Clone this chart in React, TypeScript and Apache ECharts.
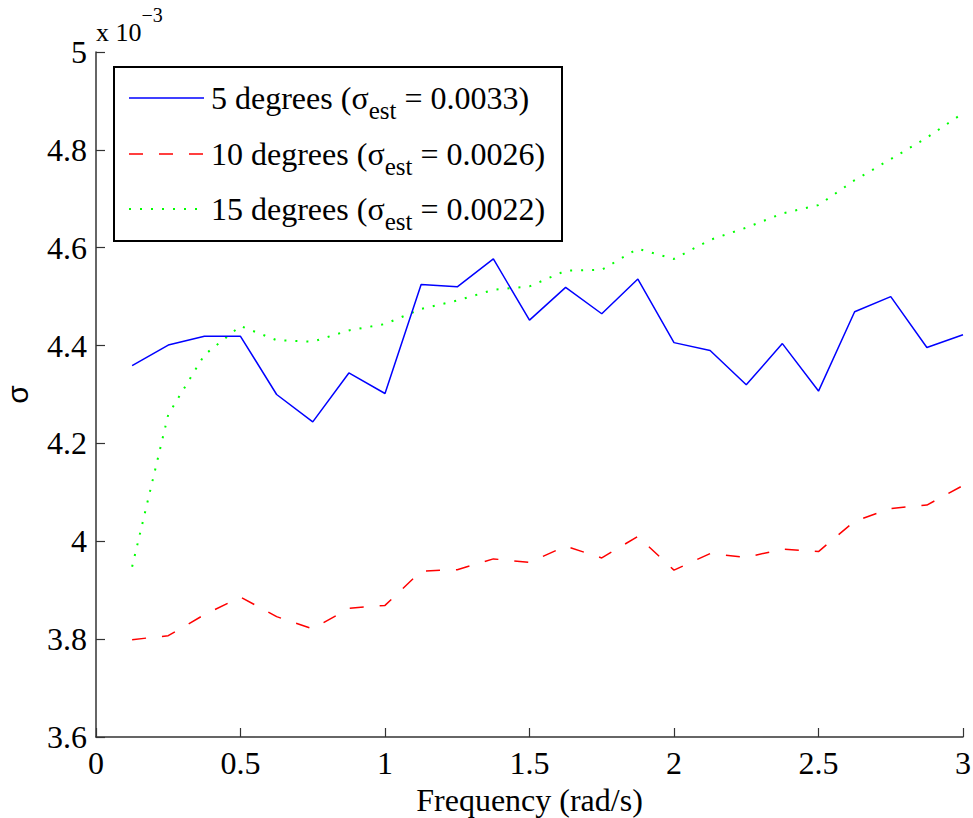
import React, { useEffect, useRef } from "react";
import * as echarts from "echarts";

// Frequency (rad/s)
const frequency = [0.125, 0.25, 0.375, 0.5, 0.625, 0.75, 0.875, 1, 1.125, 1.25, 1.375, 1.5, 1.625, 1.75, 1.875, 2, 2.125, 2.25, 2.375, 2.5, 2.625, 2.75, 2.875, 3];
// sigma values (x 10^-3)
const sigma5 = [4.359, 4.401, 4.419, 4.419, 4.300, 4.244, 4.344, 4.302, 4.525, 4.520, 4.577, 4.452, 4.519, 4.465, 4.536, 4.406, 4.390, 4.320, 4.404, 4.307, 4.469, 4.500, 4.396, 4.422];
const sigma10 = [3.799, 3.807, 3.850, 3.886, 3.846, 3.821, 3.863, 3.869, 3.939, 3.942, 3.964, 3.957, 3.990, 3.966, 4.010, 3.941, 3.975, 3.967, 3.984, 3.979, 4.041, 4.067, 4.074, 4.114];
const sigma15 = [3.948, 4.259, 4.381, 4.440, 4.411, 4.408, 4.431, 4.444, 4.475, 4.492, 4.514, 4.521, 4.553, 4.555, 4.598, 4.577, 4.616, 4.641, 4.670, 4.687, 4.738, 4.781, 4.825, 4.875];

const seriesNames = ["5 degrees", "10 degrees", "15 degrees"];
const sigmaEst = ["0.0033", "0.0026", "0.0022"];
const xAxisTitle = "Frequency (rad/s)";
const yAxisTitle = "σ";
const exponentBase = "x 10";
const exponent = "−3";

const SERIF = "Liberation Serif";
const SANS = "Liberation Sans";

const colors = ["#0000ff", "#ff0000", "#00ff00"];
const dashes: (number[] | "solid")[] = ["solid", [14, 16], [2, 9]];

const fmt = (v: number) => String(Math.round(v * 10) / 10);

export default function App() {
  const ref = useRef<HTMLDivElement>(null);
  useEffect(() => {
    if (!ref.current) return;
    const chart = echarts.init(ref.current, null, { renderer: "svg" });
    const allSeries = [sigma5, sigma10, sigma15];

    const legendX = 114, legendY = 67, legendW = 448, legendH = 174;
    const rowY = [98, 154, 209];

    const graphic: any[] = [
      {
        type: "rect",
        shape: { x: legendX, y: legendY, width: legendW, height: legendH },
        style: { fill: "#fff", stroke: "#000", lineWidth: 2 },
        z: 100,
      },
      {
        type: "text",
        x: 96,
        y: 32,
        style: {
          text: `{m|${exponentBase}}{e|${exponent}}`,
          align: "left",
          verticalAlign: "middle",
          rich: {
            m: { fontFamily: SERIF, fontSize: 26, fill: "#000" },
            e: { fontFamily: SERIF, fontSize: 20, fill: "#000", padding: [0, 0, 34, 0] },
          },
        },
        z: 100,
      },
    ];
    seriesNames.forEach((name, i) => {
      graphic.push({
        type: "line",
        shape: { x1: 129, y1: rowY[i], x2: 204, y2: rowY[i] },
        style: {
          stroke: colors[i],
          lineWidth: i === 2 ? 2 : 1.5,
          lineDash: dashes[i] === "solid" ? null : dashes[i],
        },
        z: 101,
      });
      graphic.push({
        type: "text",
        x: 211,
        y: rowY[i],
        style: {
          text: `{a|${name} (σ}{s|est}{a| = ${sigmaEst[i]})}`,
          align: "left",
          verticalAlign: "middle",
          rich: {
            a: { fontFamily: SERIF, fontSize: 32, fill: "#000" },
            s: { fontFamily: SERIF, fontSize: 25, fill: "#000", padding: [24, 0, 0, 0] },
          },
        },
        z: 101,
      });
    });

    chart.setOption({
      animation: false,
      backgroundColor: "#fff",
      textStyle: { fontFamily: SERIF },
      grid: {
        left: 96,
        right: 10,
        top: 52,
        bottom: 81,
        containLabel: false,
        outerBoundsMode: "none",
      },
      xAxis: {
        type: "value",
        min: 0,
        max: 3,
        interval: 0.5,
        name: xAxisTitle,
        nameLocation: "middle",
        nameGap: 46,
        nameTextStyle: { fontFamily: SERIF, fontSize: 32, color: "#000" },
        axisLine: { show: true, lineStyle: { color: "#333", width: 1.5 } },
        axisTick: { show: true, inside: true, length: 9, lineStyle: { color: "#333", width: 1.2 } },
        axisLabel: { fontFamily: SERIF, fontSize: 32, color: "#000", margin: 10, formatter: fmt },
        splitLine: { show: false },
      },
      yAxis: {
        type: "value",
        min: 3.6,
        max: 5,
        interval: 0.2,
        name: yAxisTitle,
        nameLocation: "middle",
        nameGap: 64,
        nameTextStyle: { fontFamily: SANS, fontSize: 30, color: "#000" },
        axisLine: { show: true, lineStyle: { color: "#333", width: 1.5 } },
        axisTick: { show: true, inside: true, length: 9, lineStyle: { color: "#333", width: 1.2 } },
        axisLabel: { fontFamily: SERIF, fontSize: 32, color: "#000", margin: 9, formatter: fmt },
        splitLine: { show: false },
      },
      series: allSeries.map((vals, i) => ({
        type: "line",
        name: seriesNames[i],
        symbol: "none",
        data: frequency.map((x, j) => [x, vals[j]]),
        lineStyle: {
          color: colors[i],
          width: i === 2 ? 2 : 1.5,
          type: dashes[i],
          cap: "butt",
        },
        itemStyle: { color: colors[i] },
        z: 3 - i,
      })),
      graphic,
    });
    return () => chart.dispose();
  }, []);
  return (
    <div
      ref={ref}
      style={{ position: "fixed", left: 0, top: 0, width: 973, height: 818, background: "#fff" }}
    />
  );
}
